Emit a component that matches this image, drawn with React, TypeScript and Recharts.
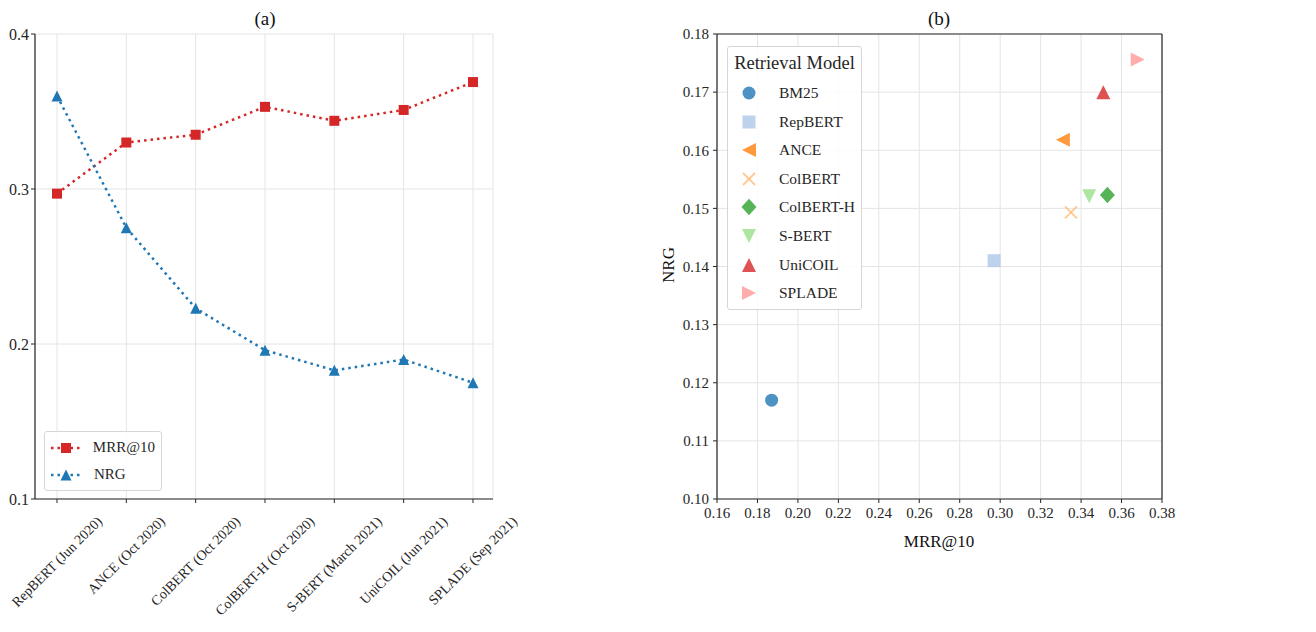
import React from "react";
import {
  CartesianGrid,
  Legend,
  Line,
  LineChart,
  ReferenceLine,
  Scatter,
  ScatterChart,
  XAxis,
  YAxis,
} from "recharts";

// (a) retrieval models in release order
const releases = [
  "RepBERT (Jun 2020)",
  "ANCE (Oct 2020)",
  "ColBERT (Oct 2020)",
  "ColBERT-H (Oct 2020)",
  "S-BERT (March 2021)",
  "UniCOIL (Jun 2021)",
  "SPLADE (Sep 2021)",
];
const mrrAt10 = [0.297, 0.33, 0.335, 0.353, 0.344, 0.351, 0.369];
const nrgByRelease = [0.36, 0.275, 0.223, 0.196, 0.183, 0.19, 0.175];
const releaseTicks = [0.1, 0.2, 0.3, 0.4];

// (b) MRR@10 vs NRG per model
const models = ["BM25", "RepBERT", "ANCE", "ColBERT", "ColBERT-H", "S-BERT", "UniCOIL", "SPLADE"];
const modelMrr = [0.187, 0.297, 0.331, 0.335, 0.353, 0.344, 0.351, 0.368];
const modelNrg = [0.117, 0.141, 0.1618, 0.1493, 0.1523, 0.1521, 0.170, 0.1756];
const mrrTicks = [0.16, 0.18, 0.2, 0.22, 0.24, 0.26, 0.28, 0.3, 0.32, 0.34, 0.36, 0.38];
const nrgTicks = [0.1, 0.11, 0.12, 0.13, 0.14, 0.15, 0.16, 0.17, 0.18];

const FONT = "'Liberation Serif', 'Times New Roman', serif";
const INK = "#262626";
const GRID = "#e4e4e4";
const RED = "#d62728";
const BLUE = "#1f77b4";

type MarkerKind =
  | "circle"
  | "square"
  | "tri-left"
  | "tri-right"
  | "tri-up"
  | "tri-down"
  | "x"
  | "diamond";

const modelMarkers: { kind: MarkerKind; color: string; r: number }[] = [
  { kind: "circle", color: "#1f77b4", r: 6.5 },
  { kind: "square", color: "#aec7e8", r: 6.5 },
  { kind: "tri-left", color: "#ff7f0e", r: 7 },
  { kind: "x", color: "#ffbb78", r: 6 },
  { kind: "diamond", color: "#2ca02c", r: 8.3 },
  { kind: "tri-down", color: "#98df8a", r: 7 },
  { kind: "tri-up", color: "#d62728", r: 7 },
  { kind: "tri-right", color: "#ff9896", r: 7 },
];

function Marker({
  kind,
  cx,
  cy,
  r,
  color,
  opacity = 0.8,
}: {
  kind: MarkerKind;
  cx: number;
  cy: number;
  r: number;
  color: string;
  opacity?: number;
}) {
  const p = (pts: number[][]) => (
    <polygon
      points={pts.map(([a, b]) => `${cx + a},${cy + b}`).join(" ")}
      fill={color}
      fillOpacity={opacity}
    />
  );
  switch (kind) {
    case "circle":
      return <circle cx={cx} cy={cy} r={r} fill={color} fillOpacity={opacity} />;
    case "square":
      return (
        <rect x={cx - r} y={cy - r} width={2 * r} height={2 * r} fill={color} fillOpacity={opacity} />
      );
    case "tri-up":
      return p([[0, -r], [-r, r], [r, r]]);
    case "tri-down":
      return p([[0, r], [-r, -r], [r, -r]]);
    case "tri-left":
      return p([[-r, 0], [r, -r], [r, r]]);
    case "tri-right":
      return p([[r, 0], [-r, -r], [-r, r]]);
    case "diamond":
      return p([[0, -r], [r * 0.9, 0], [0, r], [-r * 0.9, 0]]);
    case "x":
      return (
        <g stroke={color} strokeOpacity={opacity} strokeWidth={1.8}>
          <line x1={cx - r} y1={cy - r} x2={cx + r} y2={cy + r} />
          <line x1={cx - r} y1={cy + r} x2={cx + r} y2={cy - r} />
        </g>
      );
  }
  return null;
}

const measureCtx =
  typeof document !== "undefined" ? document.createElement("canvas").getContext("2d") : null;

function textWidth(s: string, size: number): number {
  if (!measureCtx) return s.length * size * 0.5;
  measureCtx.font = `${size}px "Liberation Serif"`;
  return measureCtx.measureText(s).width;
}

// matplotlib-style rotation=45: rotated box centred on the tick, top just under the axis
function SlantedTick({ x, y, payload }: { x: number; y: number; payload: { value: string } }) {
  const size = 14;
  const L = textWidth(payload.value, size);
  const top = y + 9;
  const cy = top + (L + size) / (2 * Math.SQRT2);
  return (
    <text
      x={x}
      y={cy}
      textAnchor="middle"
      dominantBaseline="central"
      transform={`rotate(-45 ${x} ${cy})`}
      fontFamily={FONT}
      fontSize={size}
      fill={INK}
    >
      {payload.value}
    </text>
  );
}

const lineSeries = [
  { name: "MRR@10", key: "mrr", color: RED, kind: "square" as MarkerKind, r: 5 },
  { name: "NRG", key: "nrg", color: BLUE, kind: "tri-up" as MarkerKind, r: 5.5 },
];

function LineLegend() {
  return (
    <div
      style={{
        boxSizing: "border-box",
        width: 118,
        border: "1px solid #d6d6d6",
        borderRadius: 3,
        background: "rgba(255,255,255,0.85)",
        padding: "2px 6px",
        fontFamily: FONT,
        fontSize: 15,
        color: INK,
      }}
    >
      {lineSeries.map((s) => (
        <div key={s.key} style={{ display: "flex", alignItems: "center", height: 27 }}>
          <svg width={30} height={14}>
            <line x1={0} x2={30} y1={7} y2={7} stroke={s.color} strokeWidth={2.5} strokeDasharray="2.5 4" />
            <Marker kind={s.kind} cx={15} cy={7} r={s.r} color={s.color} opacity={1} />
          </svg>
          <span style={{ marginLeft: 13 }}>{s.name}</span>
        </div>
      ))}
    </div>
  );
}

function ModelLegend() {
  return (
    <div
      style={{
        boxSizing: "border-box",
        width: 135,
        height: 264,
        border: "1px solid #d6d6d6",
        borderRadius: 3,
        background: "rgba(255,255,255,0.85)",
        padding: "3px 0 0 0",
        fontFamily: FONT,
        color: INK,
      }}
    >
      <div style={{ textAlign: "center", fontSize: 18.5, lineHeight: "26px", marginBottom: 2.7 }}>
        Retrieval Model
      </div>
      {models.map((m, i) => (
        <div key={m} style={{ display: "flex", alignItems: "center", height: 28.6, paddingLeft: 10 }}>
          <svg width={22} height={20}>
            <Marker {...modelMarkers[i]} cx={11} cy={10} />
          </svg>
          <span style={{ marginLeft: 19, fontSize: 15.5 }}>{m}</span>
        </div>
      ))}
    </div>
  );
}

function Caption({ x, y, text, size, rotate }: { x: number; y: number; text: string; size: number; rotate?: number }) {
  return (
    <div
      style={{
        position: "absolute",
        left: x - 8,
        top: y - 8,
        transform: `translate(-50%, -50%)${rotate ? ` rotate(${rotate}deg)` : ""}`,
        fontFamily: FONT,
        fontSize: size,
        lineHeight: 1,
        whiteSpace: "nowrap",
        color: "#111",
      }}
    >
      {text}
    </div>
  );
}

export default function App() {
  const lineData = releases.map((r, i) => ({ release: r, mrr: mrrAt10[i], nrg: nrgByRelease[i] }));
  const tickStyle = { fill: INK, fontFamily: FONT };

  return (
    <div style={{ position: "relative", width: 1300, height: 616 }}>
      <div style={{ position: "absolute", left: 0, top: 0 }}>
        <LineChart width={560} height={616} data={lineData} margin={{ top: 26, right: 75, bottom: 0, left: 0 }}>
          <CartesianGrid stroke={GRID} />
          <XAxis
            dataKey="release"
            interval={0}
            height={125}
            padding={{ left: 22, right: 20 }}
            axisLine={{ stroke: INK, strokeWidth: 1.2 }}
            tickLine={{ stroke: INK }}
            tickSize={4}
            tickMargin={2}
            tick={SlantedTick as any}
          />
          <YAxis
            type="number"
            domain={[0.1, 0.4]}
            ticks={releaseTicks}
            width={27}
            axisLine={{ stroke: INK, strokeWidth: 1.2 }}
            tickLine={{ stroke: INK }}
            tickSize={4}
            tickMargin={2}
            tickFormatter={(v: number) => v.toFixed(1)}
            tick={{ ...tickStyle, fontSize: 16 }}
          />
          {lineSeries.map((s) => (
            <Line
              key={s.key}
              dataKey={s.key}
              name={s.name}
              type="linear"
              stroke={s.color}
              strokeWidth={2.5}
              strokeDasharray="2.5 4"
              isAnimationActive={false}
              activeDot={false}
              dot={(p: any) => (
                <Marker key={`${s.key}-${p.index}`} kind={s.kind} cx={p.cx} cy={p.cy} r={s.r} color={s.color} opacity={1} />
              )}
            />
          ))}
          <Legend
            layout="vertical"
            align="center"
            verticalAlign="middle"
            wrapperStyle={{ left: 36, top: 423, width: 118 }}
            content={() => <LineLegend />}
          />
        </LineChart>
      </div>

      <div style={{ position: "absolute", left: 644, top: 0 }}>
        <ScatterChart width={540} height={616} margin={{ top: 26, right: 30, bottom: 0, left: 0 }}>
          <CartesianGrid stroke={GRID} />
          <XAxis
            type="number"
            dataKey="x"
            domain={[0.16, 0.38]}
            ticks={mrrTicks}
            interval={0}
            height={125}
            axisLine={{ stroke: INK, strokeWidth: 1.2 }}
            tickLine={{ stroke: INK }}
            tickSize={4}
            tickMargin={4}
            tickFormatter={(v: number) => v.toFixed(2)}
            tick={{ ...tickStyle, fontSize: 15 }}
          />
          <YAxis
            type="number"
            dataKey="y"
            domain={[0.1, 0.18]}
            ticks={nrgTicks}
            interval={0}
            width={65}
            axisLine={{ stroke: INK, strokeWidth: 1.2 }}
            tickLine={{ stroke: INK }}
            tickSize={4}
            tickMargin={4}
            tickFormatter={(v: number) => v.toFixed(2)}
            tick={{ ...tickStyle, fontSize: 15 }}
          />
          <ReferenceLine x={0.38} stroke={INK} strokeWidth={1.2} />
          <ReferenceLine y={0.18} stroke={INK} strokeWidth={1.2} />
          {models.map((m, i) => (
            <Scatter
              key={m}
              name={m}
              data={[{ x: modelMrr[i], y: modelNrg[i] }]}
              isAnimationActive={false}
              shape={(p: any) => <Marker {...modelMarkers[i]} cx={p.cx} cy={p.cy} />}
            />
          ))}
          <Legend
            layout="vertical"
            align="center"
            verticalAlign="middle"
            wrapperStyle={{ left: 75, top: 38, width: 135 }}
            content={() => <ModelLegend />}
          />
        </ScatterChart>
      </div>

      <Caption x={265} y={18} text="(a)" size={19} />
      <Caption x={939} y={18} text="(b)" size={19} />
      <Caption x={939} y={541} text="MRR@10" size={17} />
      <Caption x={668} y={265} text="NRG" size={17} rotate={-90} />
    </div>
  );
}
